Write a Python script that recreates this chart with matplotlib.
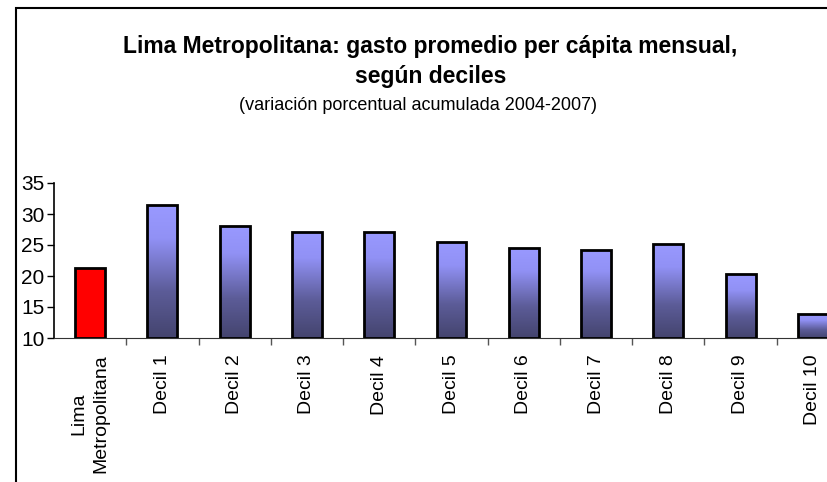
import numpy as np
import matplotlib.pyplot as plt
from matplotlib.colors import LinearSegmentedColormap
from matplotlib.patches import Rectangle

plt.rcParams['font.family'] = ['Liberation Sans', 'DejaVu Sans']

# Data (variación porcentual acumulada 2004-2007)
categories = ['Lima\nMetropolitana', 'Decil 1', 'Decil 2', 'Decil 3', 'Decil 4', 'Decil 5',
              'Decil 6', 'Decil 7', 'Decil 8', 'Decil 9', 'Decil 10']
values = [21.3, 31.4, 28.1, 27.1, 27.1, 25.5, 24.5, 24.2, 25.2, 20.3, 13.8]
y_ticks = [10, 15, 20, 25, 30, 35]

fig = plt.figure(figsize=(8.28, 4.82), dpi=100)
W, H = 828, 482

# axes extends past the right edge, like the cropped original
ax = fig.add_axes([54 / W, 144 / H, 795 / W, 155 / H])
x = np.arange(len(categories))
bw = 0.415

grad = LinearSegmentedColormap.from_list(
    'bar', [(0.0, '#44446e'), (0.35, '#5c5c98'), (0.75, '#9191f5'), (1.0, '#9999ff')])
gimg = np.linspace(0, 1, 256).reshape(-1, 1)

for i, v in enumerate(values):
    if i == 0:
        ax.bar(x[i], v - 10, bw, bottom=10, color='#ff0000', edgecolor='black', lw=2, zorder=3)
    else:
        bar = ax.bar(x[i], v - 10, bw, bottom=10, color='none', edgecolor='black', lw=2, zorder=3)[0]
        im = ax.imshow(gimg, cmap=grad, origin='lower', aspect='auto',
                       extent=(x[i] - bw / 2, x[i] + bw / 2, 10, v), zorder=2)
        im.set_clip_path(bar)

ax.set_xlim(-0.5, len(categories) - 0.5)
ax.set_ylim(10, 35)
ax.set_yticks(y_ticks)
ax.set_xticks(x)
ax.set_xticklabels(categories, rotation=90, fontsize=14, va='top', ha='center',
                   linespacing=1.35)
ax.set_xticks(np.arange(len(categories)) + 0.5, minor=True)
ax.tick_params(axis='x', which='major', length=0, pad=12)
ax.tick_params(axis='x', which='minor', length=5, color='#555555', width=1)
ax.tick_params(axis='y', length=5, width=1, labelsize=15, pad=2)
for s in ['top', 'right']:
    ax.spines[s].set_visible(False)
ax.spines['left'].set_linewidth(1.2)
ax.spines['bottom'].set_color('#333333')

# outer chart frame (left/top visible, rest cropped)
fig.patches.append(Rectangle((16 / W, -0.5), 2.0, 1.5 - 8 / H, transform=fig.transFigure,
                             fill=False, edgecolor='black', lw=1.5))

fig.text(0.52, 1 - 46 / H, 'Lima Metropolitana: gasto promedio per cápita mensual,',
         ha='center', va='center', fontsize=16.5, fontweight='bold')
fig.text(0.52, 1 - 76 / H, 'según deciles', ha='center', va='center', fontsize=16.5,
         fontweight='bold')
fig.text(0.505, 1 - 106 / H, '(variación porcentual acumulada 2004-2007)',
         ha='center', va='center', fontsize=13)

fig.savefig('out.png', dpi=100)
